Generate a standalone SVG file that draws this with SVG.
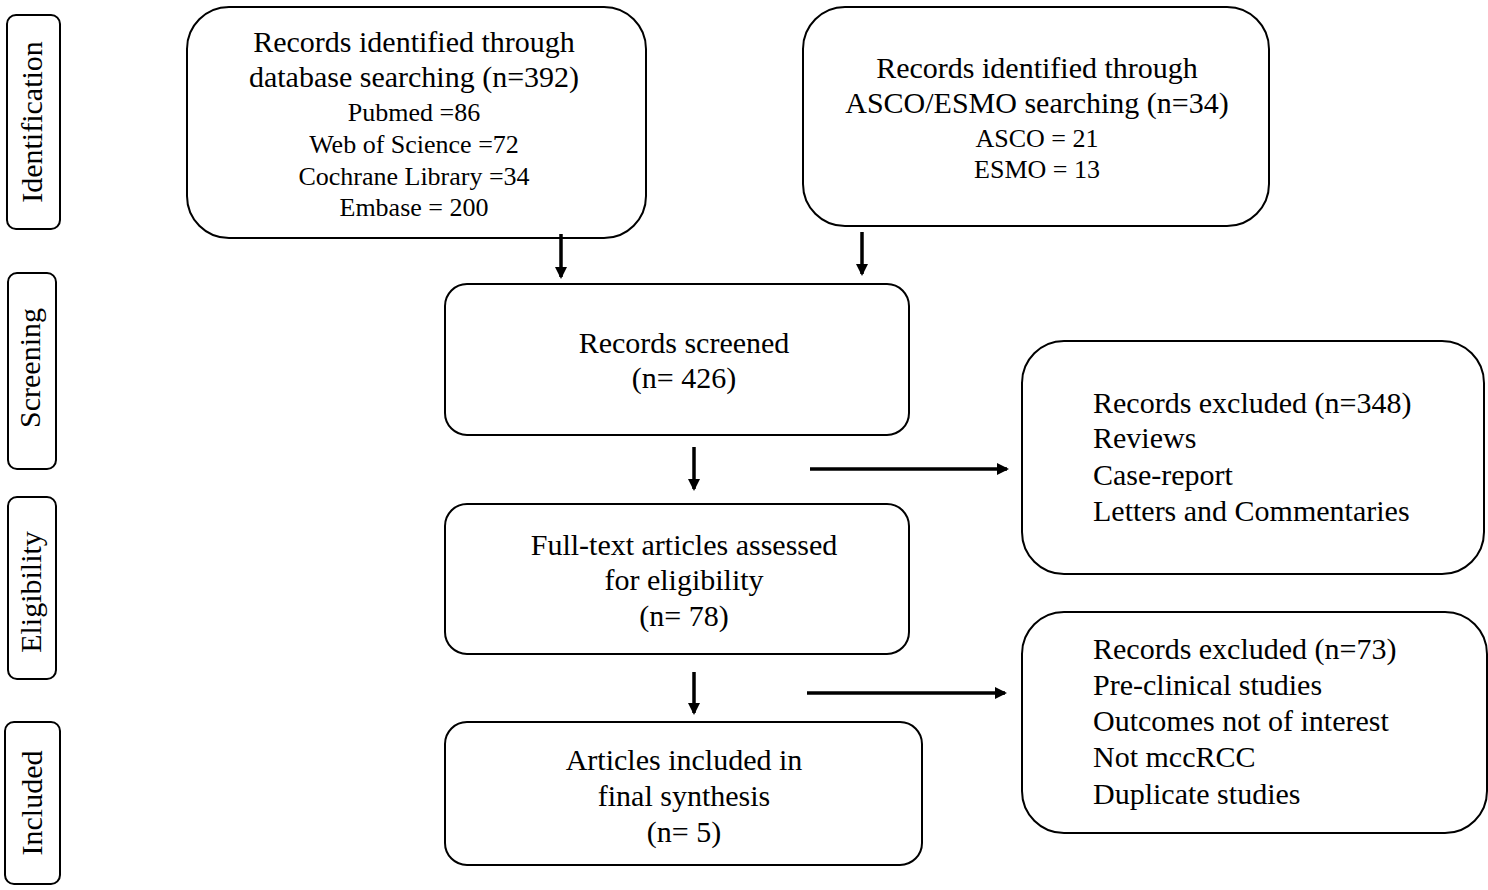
<svg xmlns="http://www.w3.org/2000/svg" width="1488" height="890" viewBox="0 0 1488 890">
<defs>
<marker id="ah" markerWidth="12" markerHeight="12" refX="10" refY="6" orient="auto" markerUnits="userSpaceOnUse">
<path d="M0,0 L12,6 L0,12 Z" fill="#000"/>
</marker>
<style>
.box{fill:#fff;stroke:#000;stroke-width:2}
.t{font-family:"Liberation Serif","Times New Roman",serif;font-size:30px;fill:#000}
.s{font-family:"Liberation Serif","Times New Roman",serif;font-size:26px;fill:#000}
.c{text-anchor:middle}
.a{stroke:#000;stroke-width:3.5;fill:none;marker-end:url(#ah)}
</style>
</defs>
<rect width="1488" height="890" fill="#fff"/>
<g id="stage-identification">
<rect class="box" x="7" y="15" width="53" height="214" rx="9"/>
<text class="t c" transform="translate(42,122) rotate(-90)">Identification</text>
</g>
<g id="stage-screening">
<rect class="box" x="8" y="273" width="48" height="196" rx="9"/>
<text class="t c" transform="translate(40,368) rotate(-90)">Screening</text>
</g>
<g id="stage-eligibility">
<rect class="box" x="8" y="497" width="48" height="182" rx="9"/>
<text class="t c" transform="translate(41,592) rotate(-90)">Eligibility</text>
</g>
<g id="stage-included">
<rect class="box" x="5" y="722" width="55" height="162" rx="9"/>
<text class="t c" transform="translate(42,803) rotate(-90)">Included</text>
</g>
<g id="db-search">
<rect class="box" x="187" y="7" width="459" height="231" rx="42"/>
<text class="t c" x="414" y="52">Records identified through</text>
<text class="t c" x="414" y="87">database searching (n=392)</text>
<text class="s c" x="414" y="121">Pubmed =86</text>
<text class="s c" x="414" y="153">Web of Science =72</text>
<text class="s c" x="414" y="185">Cochrane Library =34</text>
<text class="s c" x="414" y="216">Embase = 200</text>
</g>
<g id="asco-search">
<rect class="box" x="803" y="7" width="466" height="219" rx="42"/>
<text class="t c" x="1037" y="78">Records identified through</text>
<text class="t c" x="1037" y="113">ASCO/ESMO searching (n=34)</text>
<text class="s c" x="1037" y="147">ASCO = 21</text>
<text class="s c" x="1037" y="178">ESMO = 13</text>
</g>
<g id="screened">
<rect class="box" x="445" y="284" width="464" height="151" rx="22"/>
<text class="t c" x="684" y="353">Records screened</text>
<text class="t c" x="684" y="388">(n= 426)</text>
</g>
<g id="fulltext">
<rect class="box" x="445" y="504" width="464" height="150" rx="22"/>
<text class="t c" x="684" y="555">Full-text articles assessed</text>
<text class="t c" x="684" y="590">for eligibility</text>
<text class="t c" x="684" y="626">(n= 78)</text>
</g>
<g id="included">
<rect class="box" x="445" y="722" width="477" height="143" rx="22"/>
<text class="t c" x="684" y="770">Articles included in</text>
<text class="t c" x="684" y="806">final synthesis</text>
<text class="t c" x="684" y="842">(n= 5)</text>
</g>
<g id="excluded-348">
<rect class="box" x="1022" y="341" width="462" height="233" rx="42"/>
<text class="t" x="1093" y="413">Records excluded (n=348)</text>
<text class="t" x="1093" y="448">Reviews</text>
<text class="t" x="1093" y="485">Case-report</text>
<text class="t" x="1093" y="521">Letters and Commentaries</text>
</g>
<g id="excluded-73">
<rect class="box" x="1022" y="612" width="465" height="221" rx="42"/>
<text class="t" x="1093" y="659">Records excluded (n=73)</text>
<text class="t" x="1093" y="695">Pre-clinical studies</text>
<text class="t" x="1093" y="731">Outcomes not of interest</text>
<text class="t" x="1093" y="767">Not mccRCC</text>
<text class="t" x="1093" y="804">Duplicate studies</text>
</g>
<g id="connectors">
<line class="a" x1="561" y1="234" x2="561" y2="277"/>
<line class="a" x1="862" y1="232" x2="862" y2="274"/>
<line class="a" x1="694" y1="447" x2="694" y2="489"/>
<line class="a" x1="810" y1="469" x2="1007" y2="469"/>
<line class="a" x1="694" y1="672" x2="694" y2="713"/>
<line class="a" x1="807" y1="693" x2="1005" y2="693"/>
</g>
</svg>
